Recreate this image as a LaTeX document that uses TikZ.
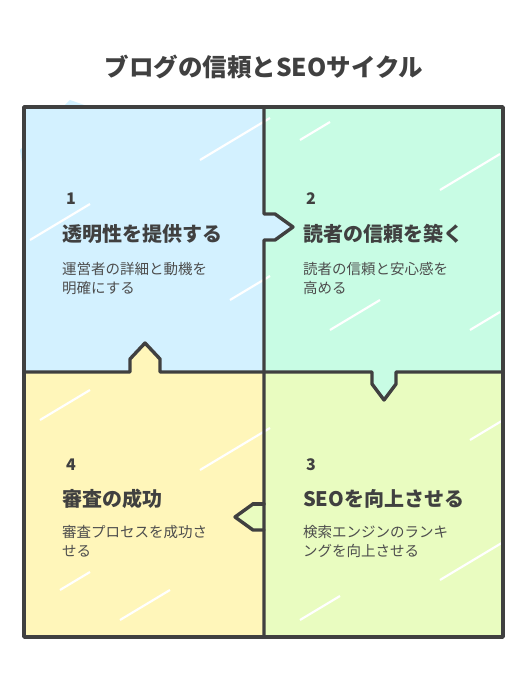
\documentclass[tikz,border=0pt]{standalone}
\usepackage{fontspec}
\setmainfont{Noto Sans CJK JP}
\definecolor{ink}{HTML}{404040}
\definecolor{gray}{HTML}{4D4D4D}
\definecolor{qblue}{HTML}{D3F1FF}
\definecolor{qmint}{HTML}{C8FCE4}
\definecolor{qlime}{HTML}{E9FCC0}
\definecolor{qsand}{HTML}{FFF6BA}
\tikzset{
  frame/.style={draw=ink,line width=3.4pt,line join=round,line cap=round},
  num/.style={anchor=base west,text=ink,font=\fontsize{16}{16}\selectfont\bfseries,inner sep=0},
  head/.style={anchor=base west,text=ink,font=\fontsize{20}{20}\selectfont\bfseries,inner sep=0},
  desc/.style={anchor=base west,text=gray,font=\fontsize{14.5}{19}\selectfont,align=left,inner sep=0},
  streak/.style={white,line width=2.2pt}
}
\begin{document}
\begin{tikzpicture}[x=1pt,y=-1pt]
  \useasboundingbox (0,0) rectangle (528,684);

  % quadrant fills
  \fill[qblue] (24,107) rectangle (264,372);
  \fill[qmint] (264,107) rectangle (503,372);
  \fill[qlime] (264,372) rectangle (503,637);
  \fill[qsand] (24,372) rectangle (264,637);
  \fill[qblue] (20,150) -- (70,100) -- (90,107) -- (24,175) -- cycle;

  % arrow heads
  \fill[qblue] (262,214) -- (275,214) -- (293,227) -- (275,240) -- (262,240) -- cycle;
  \fill[qmint] (372,370) -- (372,384) -- (384,400) -- (396,384) -- (396,370) -- cycle;
  \fill[qlime] (266,504) -- (253,504) -- (235,517) -- (253,530) -- (266,530) -- cycle;
  \fill[qsand] (130,374) -- (130,359) -- (145,343) -- (160,359) -- (160,374) -- cycle;

  % white hatch streaks
  \begin{scope}
    \clip (24,107) rectangle (503,637);
    \foreach \x/\y/\l in {30/240/60, 200/160/70, 230/300/40, 440/190/60, 330/330/50,
                          470/440/40, 440/580/70, 300/620/40, 40/420/50, 200/470/70,
                          120/620/50, 60/590/30, 300/140/30, 470/330/30}
      \draw[streak] (\x,\y) -- ++(\l,-0.6*\l);
  \end{scope}

  % frame with arrow notches
  \draw[frame] (24,107) rectangle (503,637);
  \draw[frame] (264,107) -- (264,214) -- (275,214) -- (293,227) -- (275,240) -- (264,240) -- (264,637);
  \draw[frame] (253,504) -- (264,504);
  \draw[frame] (264,530) -- (253,530) -- (235,517) -- (253,504);
  \draw[frame] (24,372) -- (130,372) -- (130,359) -- (145,343) -- (160,359) -- (160,372)
    -- (372,372) -- (372,384) -- (384,400) -- (396,384) -- (396,372) -- (503,372);

  % title
  \node[text=ink,font=\fontsize{24.5}{24.5}\selectfont\bfseries] (title) at (264,67) {ブログの信頼とSEOサイクル};

  % step 1
  \node[num] (n1) at (66,205) {1};
  \node[head] (h1) at (62,242) {透明性を提供する};
  \node[desc] (d1) at (62,293) {運営者の詳細と動機を\\明確にする};

  % step 2
  \node[num] (n2) at (306,205) {2};
  \node[head] (h2) at (303,242) {読者の信頼を築く};
  \node[desc] (d2) at (303,293) {読者の信頼と安心感を\\高める};

  % step 3
  \node[num] (n3) at (306,470) {3};
  \node[head] (h3) at (303,506) {SEOを向上させる};
  \node[desc] (d3) at (303,556) {検索エンジンのランキ\\ングを向上させる};

  % step 4
  \node[num] (n4) at (66,470) {4};
  \node[head] (h4) at (62,506) {審査の成功};
  \node[desc] (d4) at (62,556) {審査プロセスを成功さ\\せる};
\end{tikzpicture}
\end{document}
